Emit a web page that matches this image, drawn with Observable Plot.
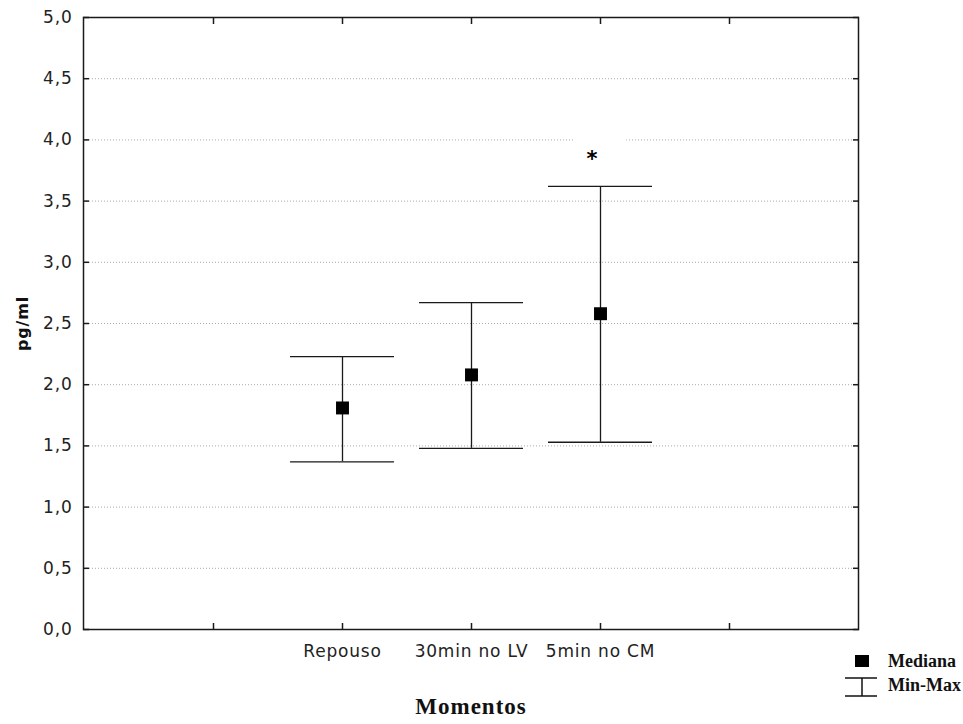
<!DOCTYPE html>
<html>
<head>
<meta charset="utf-8">
<script src="https://cdn.jsdelivr.net/npm/d3@7"></script>
<script src="https://cdn.jsdelivr.net/npm/@observablehq/plot@0.6"></script>
<style>
  html, body { margin: 0; padding: 0; background: white; }
  #wrap { position: relative; width: 963px; height: 724px; }
  #wrap svg.plot text { letter-spacing: 0.8px; }
  #wrap svg.plot g.xlabel text { font: bold 23px "Liberation Serif", "Times New Roman", serif; letter-spacing: 1px; }
  #legend { position: absolute; left: 840px; top: 650px; width: 123px; height: 50px; }
  #legend text { font: bold 18px "Liberation Serif", "Times New Roman", serif; fill: #111; }
</style>
</head>
<body>
<div id="wrap"></div>
<script>
// ---- data ----
const slots = ["", "Repouso", "30min no LV", "5min no CM", " "];
const moments = ["Repouso", "30min no LV", "5min no CM"];
const medians = [1.81, 2.08, 2.58];
const mins = [1.37, 1.48, 1.53];
const maxs = [2.23, 2.67, 3.62];
const yTicks = [0, 0.5, 1, 1.5, 2, 2.5, 3, 3.5, 4, 4.5, 5];
const gridTicks = [0.5, 1, 1.5, 2, 2.5, 3, 3.5, 4, 4.5];
const annotMoment = ["5min no CM"];
const annotValue = [3.84];
const annotText = ["*"];

const data = moments.map((m, i) => ({moment: m, median: medians[i], min: mins[i], max: maxs[i]}));
const annot = annotMoment.map((m, i) => ({moment: m, y: annotValue[i], text: annotText[i]}));
const fmt = d => d.toFixed(1).replace(".", ",");
const ink = "#1a1a1a";

const chart = Plot.plot({
  width: 963,
  height: 724,
  marginLeft: 83,
  marginRight: 105,
  marginTop: 17,
  marginBottom: 95,
  x: {type: "point", domain: slots, padding: 1},
  y: {domain: [0, 5]},
  style: {fontFamily: "'DejaVu Sans', sans-serif", fontSize: "17px", color: "#222", background: "white"},
  marks: [
    Plot.gridY(gridTicks, {stroke: "#aaa", strokeOpacity: 1, strokeDasharray: "1,2"}),
    Plot.dot(annot, {x: "moment", y: "y", symbol: "square", r: 29, fill: "white", stroke: null}),
    Plot.frame({stroke: ink, strokeWidth: 1.5}),
    Plot.axisY(yTicks, {anchor: "left", tickSize: 0, tickPadding: 11, tickFormat: fmt, label: null}),
    Plot.axisY(yTicks, {anchor: "left", tickSize: -6, text: null, label: null, stroke: ink, strokeWidth: 1.5}),
    Plot.axisY(yTicks, {anchor: "right", tickSize: -6, text: null, label: null, stroke: ink, strokeWidth: 1.5}),
    Plot.axisX(slots, {anchor: "bottom", tickSize: 0, tickPadding: 15, tickFormat: d => d.trim(), label: null}),
    Plot.axisX(slots, {anchor: "bottom", tickSize: -6, text: null, label: null, stroke: ink, strokeWidth: 1.5}),
    Plot.axisX(slots, {anchor: "top", tickSize: -6, text: null, label: null, stroke: ink, strokeWidth: 1.5}),
    Plot.ruleX(data, {x: "moment", y1: "min", y2: "max", stroke: ink, strokeWidth: 1.3}),
    Plot.ruleY(data, {x1: "moment", x2: "moment", y: "min", stroke: ink, strokeWidth: 1.3, insetLeft: -52, insetRight: -52}),
    Plot.ruleY(data, {x1: "moment", x2: "moment", y: "max", stroke: ink, strokeWidth: 1.3, insetLeft: -52, insetRight: -52}),
    Plot.dot(data, {x: "moment", y: "median", symbol: "square", r: 7.3, fill: "#000", stroke: null}),
    Plot.text(annot, {x: "moment", y: "y", text: "text", dx: -8, fontSize: 21, fontWeight: "bold", fill: "#000"}),
    Plot.text(["pg/ml"], {frameAnchor: "left", textAnchor: "middle", dx: -61, rotate: -90, fontWeight: "bold", fontSize: 16, fill: "#111"}),
    Plot.text(["Momentos"], {frameAnchor: "bottom", dy: 84, className: "xlabel", fill: "#111"})
  ]
});
chart.classList.add("plot");
document.getElementById("wrap").appendChild(chart);

// legend
const legend = document.createElement("div");
legend.id = "legend";
legend.innerHTML = `<svg width="123" height="50">
  <rect x="15" y="5" width="14" height="12" fill="#000"/>
  <text x="48" y="17">Mediana</text>
  <line x1="5" x2="37" y1="28" y2="28" stroke="#111" stroke-width="1.5"/>
  <line x1="22" x2="22" y1="28" y2="46" stroke="#111" stroke-width="1.5"/>
  <line x1="5" x2="37" y1="46" y2="46" stroke="#111" stroke-width="1.5"/>
  <text x="48" y="41">Min-Max</text>
</svg>`;
document.getElementById("wrap").appendChild(legend);
</script>
</body>
</html>
